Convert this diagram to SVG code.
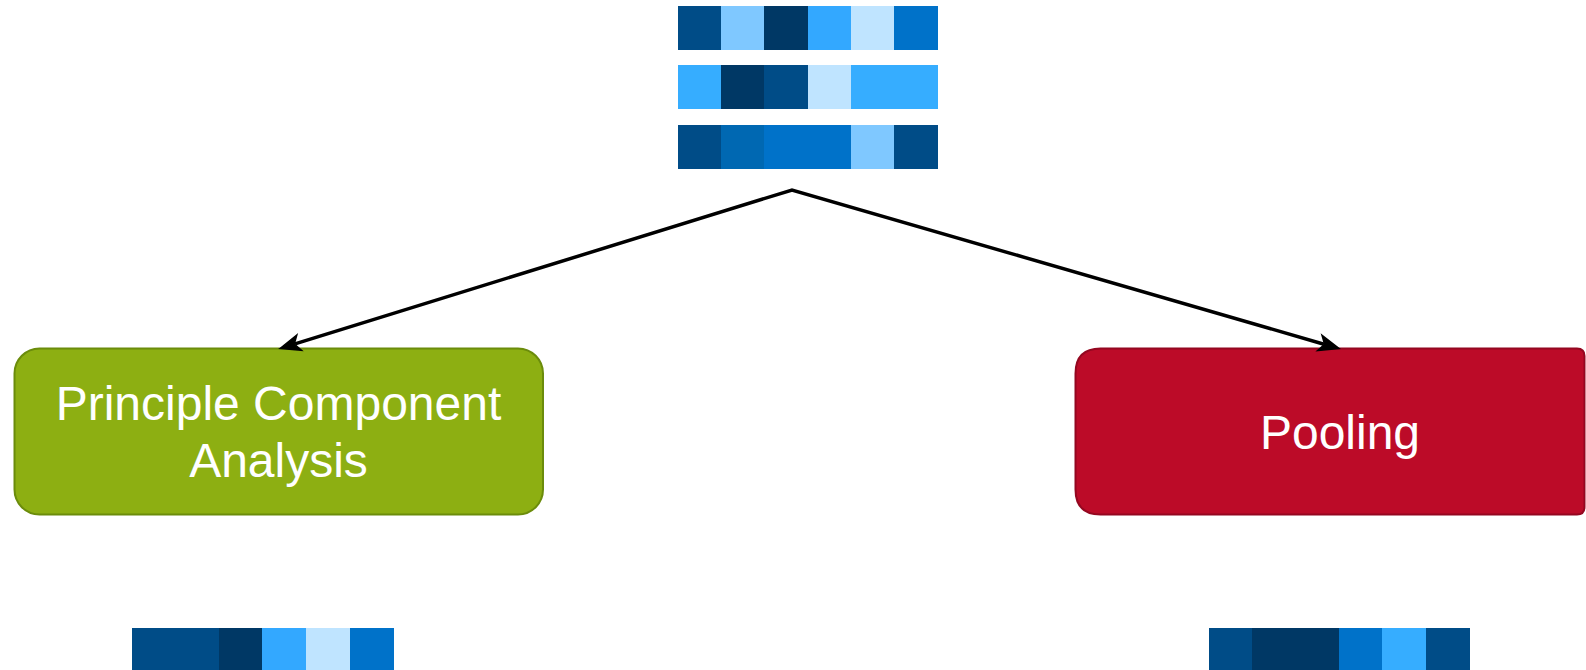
<svg xmlns="http://www.w3.org/2000/svg" width="1586" height="670" viewBox="0 0 1586 670">
<defs>
<style>
.c1{fill:#004C87}.c2{fill:#7FC8FF}.c3{fill:#003865}.c4{fill:#33A8FF}.c5{fill:#BFE4FF}.c6{fill:#0072C9}.c7{fill:#0068B2}.c8{fill:#36ADFF}
.lbl{font-family:"Liberation Sans",Arial,sans-serif;font-size:48px;fill:#FFFFFF;text-anchor:middle}
.edge{fill:none;stroke:#000000;stroke-width:3.5;stroke-linejoin:miter}
.head{fill:#000000;stroke:#000000;stroke-width:1.5;stroke-linejoin:miter}
</style>
</defs>
<rect width="1586" height="670" fill="#FFFFFF"/>
<g id="input-grid">
<rect class="c1" x="678" y="6" width="44" height="44"/>
<rect class="c2" x="721" y="6" width="44" height="44"/>
<rect class="c3" x="764" y="6" width="45" height="44"/>
<rect class="c4" x="808" y="6" width="44" height="44"/>
<rect class="c5" x="851" y="6" width="44" height="44"/>
<rect class="c6" x="894" y="6" width="44" height="44"/>
<rect class="c8" x="678" y="65" width="44" height="44"/>
<rect class="c3" x="721" y="65" width="44" height="44"/>
<rect class="c1" x="764" y="65" width="45" height="44"/>
<rect class="c5" x="808" y="65" width="44" height="44"/>
<rect class="c8" x="851" y="65" width="87" height="44"/>
<rect class="c1" x="678" y="125" width="44" height="44"/>
<rect class="c7" x="721" y="125" width="44" height="44"/>
<rect class="c6" x="764" y="125" width="88" height="44"/>
<rect class="c2" x="851" y="125" width="44" height="44"/>
<rect class="c1" x="894" y="125" width="44" height="44"/>
</g>
<g id="pca">
<rect x="14.5" y="348.5" width="528.5" height="166" rx="25" ry="25" fill="#8DAF12" stroke="#6B8C0B" stroke-width="2"/>
<text class="lbl" x="278.5" y="420">Principle Component</text>
<text class="lbl" x="278.5" y="477">Analysis</text>
</g>
<g id="pooling">
<path d="M1100.5,348.5 H1577 Q1584.5,348.5 1584.5,356 V507 Q1584.5,514.5 1577,514.5 H1100.5 Q1075.5,514.5 1075.5,489.5 V373.5 Q1075.5,348.5 1100.5,348.5 Z" fill="#BC0B28" stroke="#940720" stroke-width="2"/>
<text class="lbl" x="1340" y="449">Pooling</text>
</g>
<g id="pca-output">
<rect class="c1" x="132" y="628" width="88" height="42"/>
<rect class="c3" x="219" y="628" width="44" height="42"/>
<rect class="c4" x="262" y="628" width="45" height="42"/>
<rect class="c5" x="306" y="628" width="45" height="42"/>
<rect class="c6" x="350" y="628" width="44" height="42"/>
</g>
<g id="pooling-output">
<rect class="c1" x="1209" y="628" width="44" height="42"/>
<rect class="c3" x="1252" y="628" width="88" height="42"/>
<rect class="c6" x="1339" y="628" width="44" height="42"/>
<rect class="c8" x="1382" y="628" width="45" height="42"/>
<rect class="c1" x="1426" y="628" width="44" height="42"/>
</g>
<g id="connectors">
<path class="edge" d="M295,343.8 L792,190 L1324,344.2"/>
<polygon class="head" points="280,348.5 296.8,335 294.3,344.1 301.5,350.3"/>
<polygon class="head" points="1339,348.5 1317.6,350.6 1324.6,344.3 1322,335.3"/>
</g>
</svg>
